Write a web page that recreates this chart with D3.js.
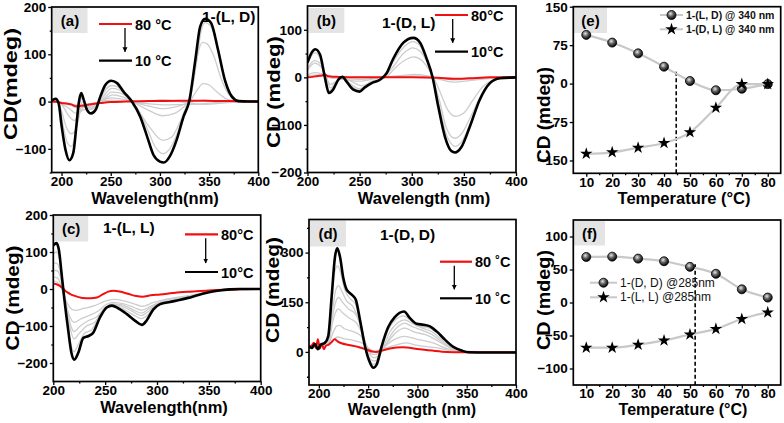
<!DOCTYPE html>
<html><head><meta charset="utf-8">
<script src="https://cdn.jsdelivr.net/npm/d3@7"></script>
<style>body{margin:0;background:#fff}svg{display:block}text{font-family:"Liberation Sans",Arial,sans-serif}</style>
</head><body><svg id="c" width="784" height="423"></svg>
<script>
// ---------------- DATA ----------------
// (a) 1-(L, D)
const aBlack=[[190,2],[194,6],[197,-3],[200,-50],[204,-102],[208,-124],[212,-108],[215,-53],[217.5,-3],[220,18],[222.5,4],[226,-18],[230,-25],[234.5,-18],[239.5,11],[244.5,35],[250.5,44],[256.5,39],[263,21],[271.5,0],[280,-32],[287,-74],[293.5,-113],[300,-127],[304,-129],[310,-116],[317,-81],[324,-32],[330,3],[336,88],[341,159],[346,175],[352,166],[359,110],[366,46],[373,11],[380,1],[390,0],[400,0]];
const aRed=[[190,0],[196,-1],[200,-3],[205,-4],[210,-6],[215,-10],[220,-9],[226,-7],[232,-5],[240,-3],[250,-1],[265,0],[290,1],[320,2],[345,2],[370,1],[400,0]];
const aGray1=[[190,2],[194,5],[198,-10],[202,-55],[206,-88],[210,-95],[213,-80],[216,-40],[219,0],[221,8],[224,-2],[229,-17],[234,-12],[240,8],[245,26],[251,34],[257,31],[264,17],[272,0],[280,-26],[288,-62],[295,-95],[303,-110],[310,-100],[318,-65],[325,-20],[331,8],[337,80],[342,150],[346,167],[352,158],[360,102],[366,44],[373,10],[380,1],[400,0]];
const aGray2=[[190,2],[195,3],[200,-20],[205,-55],[210,-68],[214,-62],[218,-30],[221,0],[225,-6],[231,-15],[240,4],[251,28],[258,25],[272,0],[288,-50],[303,-82],[312,-75],[320,-45],[328,-5],[333,30],[338,95],[343,125],[348,122],[355,95],[362,50],[370,15],[380,2],[400,0]];
const aGray3=[[190,1],[196,2],[202,-12],[208,-32],[213,-40],[218,-25],[224,-10],[232,-12],[240,0],[251,20],[260,18],[272,0],[288,-18],[303,-30],[315,-25],[325,-10],[332,5],[338,25],[344,38],[350,35],[358,20],[368,5],[380,0],[400,0]];
const aGray4=[[190,1],[200,-5],[208,-15],[215,-25],[222,-18],[232,-10],[242,2],[252,14],[262,10],[275,-2],[290,-10],[303,-15],[318,-10],[330,-2],[345,3],[360,1],[400,0]];
const aGray5=[[190,0],[200,-3],[210,-8],[217,-14],[226,-10],[236,-4],[250,8],[262,5],[280,-1],[303,4],[320,0],[340,-5],[360,-2],[400,0]];
const aGray6=[[190,0],[200,-2],[215,-7],[230,-4],[250,3],[280,-3],[303,-7],[330,-6],[345,-6],[370,-2],[400,0]];
// (b) 1-(D, L)
const bBlack=[[200,31],[204,52],[207.5,59],[212,48],[216.5,2],[220.5,-33],[224.5,-26],[229.5,-5],[233.5,1],[237.5,-9],[244,-26],[250,-30],[255,-21],[261.5,-12],[269.5,-5],[276,9],[282,38],[292,73],[301.5,83],[308,73],[314,41],[320,0],[325.5,-62],[332,-126],[338,-155],[341.5,-158],[347.5,-147],[355.5,-105],[365,-48],[375,-12],[384.5,-2],[400,0]];
const bRed=[[200,0],[205,1],[210,3],[214,4],[217,6],[219,3],[222,2],[230,1],[250,0],[300,0],[325,-1],[340,-3],[355,-2],[375,0],[400,0]];
const bGray1=[[200,28],[207,52],[212,40],[217,0],[221,-28],[226,-18],[233,0],[240,-15],[250,-27],[260,-13],[270,-4],[280,25],[290,58],[301,75],[308,66],[314,38],[320,0],[326,-55],[332,-112],[338,-140],[341,-145],[348,-135],[356,-97],[365,-45],[375,-11],[385,-2],[400,0]];
const bGray2=[[200,20],[207,35],[213,28],[218,0],[222,-22],[227,-12],[233,-1],[240,-12],[250,-24],[262,-10],[272,-2],[282,22],[292,50],[301,62],[308,55],[315,30],[320,0],[327,-52],[333,-105],[341,-128],[348,-118],[356,-85],[366,-40],[375,-10],[385,-2],[400,0]];
const bGray3=[[200,15],[207,30],[213,22],[218,0],[222,-15],[228,-8],[235,-2],[245,-12],[252,-18],[262,-8],[275,0],[285,22],[295,38],[302,43],[310,35],[316,18],[321,0],[328,-35],[335,-70],[342,-82],[350,-75],[358,-50],[368,-20],[378,-5],[390,0],[400,0]];
const bGray4=[[200,5],[207,10],[213,8],[220,0],[230,-3],[250,-8],[270,0],[290,4],[302,6],[315,3],[325,-3],[340,-10],[355,-7],[370,-3],[400,0]];
const bGray5=[[200,3],[210,5],[220,0],[250,-4],[280,1],[302,3],[320,0],[340,-5],[360,-3],[400,0]];
// (c) 1-(L, L)
const cBlack=[[200,118],[203,124],[205.5,104],[208,41],[210.5,-23],[214.5,-114],[217.5,-173],[220.3,-191],[224,-173],[229,-132],[234,-127],[238.5,-118],[245,-77],[251.5,-50],[256.5,-45],[262.5,-52],[271,-68],[279,-86],[285.5,-97],[290,-85],[296.5,-55],[303,-41],[312.5,-35],[321.5,-30],[330,-24],[340,-16],[350,-9],[360,-4],[370,-1],[380,0],[400,0]];
const cRed=[[200,15],[203,13],[206,9],[209,2],[212,-6],[216,-13],[220,-18],[228,-24],[236,-25],[242,-23],[248,-14],[253,-7],[258,-5],[264,-7],[272,-13],[280,-19],[286,-21],[294,-17],[303,-15],[315,-11],[322,-9],[335,-7],[350,-4],[365,-2],[380,-1],[400,0]];
const cGray1=[[200,95],[203,100],[206,80],[209,20],[213,-80],[217,-150],[220,-170],[224,-150],[230,-120],[237,-110],[245,-72],[252,-48],[257,-43],[265,-50],[276,-68],[285,-80],[291,-70],[298,-48],[310,-35],[330,-23],[350,-9],[370,-1],[400,0]];
const cGray2=[[200,70],[203,70],[206,55],[209,10],[213,-60],[217,-115],[220,-135],[225,-120],[232,-100],[240,-90],[247,-60],[254,-44],[258,-42],[266,-46],[276,-60],[285,-72],[292,-60],[300,-42],[315,-32],[335,-20],[355,-7],[375,-1],[400,0]];
const cGray3=[[200,50],[203,50],[206,40],[209,5],[213,-50],[217,-100],[220,-115],[226,-100],[234,-85],[242,-75],[250,-50],[257,-40],[266,-42],[276,-55],[285,-65],[293,-52],[302,-38],[320,-28],[340,-15],[360,-4],[380,0],[400,0]];
const cGray4=[[200,32],[204,30],[208,5],[212,-40],[216,-75],[220,-90],[227,-80],[236,-70],[244,-58],[251,-42],[258,-36],[268,-40],[278,-50],[285,-57],[295,-45],[305,-33],[325,-23],[345,-11],[365,-2],[400,0]];
const cGray5=[[200,22],[204,18],[208,0],[212,-30],[216,-50],[221,-58],[230,-52],[240,-45],[250,-33],[258,-28],[268,-32],[278,-40],[286,-47],[296,-37],[310,-27],[330,-18],[350,-8],[370,-1],[400,0]];
// (d) 1-(D, D)
const dBlack=[[190,17],[193,12],[196,24],[199,8],[202,22],[206,27],[209.5,47],[213,168],[216.4,288],[218.7,313],[221.4,288],[224.8,223],[228.2,188],[233.3,173],[237.4,158],[241.7,97],[246.8,17],[251.9,-33],[255.2,-48],[258.7,-38],[263.7,17],[270.4,75],[277,105],[286.4,122],[292.4,102],[299.2,85],[306,82],[312.7,77],[319.5,62],[327.9,37],[336.4,15],[344.9,4],[351.6,-1],[370,-2],[400,-2]];
const dRed=[[190,15],[193,20],[195,28],[197,12],[199,38],[201,10],[203,25],[205,8],[207,18],[210,22],[213,30],[216,38],[219,32],[223,26],[230,21],[240,15],[248,8],[254,1],[258,0],[264,4],[272,10],[285,14],[300,9],[315,4],[330,0],[345,-1],[400,-1]];
const dGray1=[[190,15],[206,25],[210,40],[213,140],[216,240],[219,260],[222,240],[226,190],[232,160],[237,145],[242,90],[247,15],[252,-28],[255,-38],[259,-30],[264,12],[270,65],[278,98],[286,109],[293,95],[300,78],[310,74],[320,57],[330,30],[340,10],[350,1],[360,-1],[400,-1]];
const dGray2=[[190,15],[206,22],[210,35],[214,130],[217,185],[220,200],[223,185],[228,155],[235,135],[241,90],[247,20],[252,-20],[256,-28],[260,-20],[265,10],[272,60],[280,88],[287,97],[295,85],[305,72],[315,60],[325,35],[335,14],[345,3],[355,0],[400,-1]];
const dGray3=[[190,15],[206,20],[210,32],[214,110],[217,150],[220,165],[224,150],[230,130],[237,115],[243,75],[248,20],[253,-12],[256,-18],[261,-10],[267,15],[274,55],[281,78],[287,87],[295,76],[305,65],[315,52],[325,30],[335,12],[345,2],[400,-1]];
const dGray4=[[190,15],[206,18],[210,28],[214,90],[217,120],[220,130],[224,118],[232,100],[238,88],[244,55],[249,15],[253,-5],[257,-8],[262,0],[270,30],[278,58],[287,72],[297,60],[308,52],[318,38],[328,20],[338,6],[350,0],[400,-1]];
const dGray5=[[190,15],[206,18],[210,25],[214,55],[218,78],[221,80],[226,70],[234,62],[242,50],[248,20],[253,3],[257,0],[264,10],[275,35],[287,47],[300,38],[315,28],[330,10],[345,1],[400,-1]];
const dGray6=[[190,15],[206,18],[212,25],[216,40],[219,45],[225,40],[235,35],[245,25],[252,8],[257,2],[265,10],[280,22],[288,27],[300,20],[320,12],[340,2],[360,0],[400,-1]];
// (e) & (f) temperature dependence
const temps=[10,20,30,40,50,60,70,80];
const eLD340=[95,80,59,33,5,-13,-10,-1];
const eDL340=[-137,-134,-125,-116,-95,-47,-1,-1];
const fDD285=[69,69.5,66.5,62.5,54,43.5,20,7.5];
const fLL285=[-68.5,-68.5,-64,-57.5,-48.5,-40,-25,-15];
const eTransition=[44.7,23];   // [temperature, top value] of dashed marker
const fTransition=[52,58];
// ticks
const wlTicks=[200,250,300,350,400], wlMinor=[225,275,325,375];
const aYTicks=[-100,0,100,200], aYMinor=[-150,-50,50,150];
const bYTicks=[-200,-100,0,100], bYMinor=[-150,-50,50];
const cYTicks=[-200,-100,0,100,200], cYMinor=[-150,-50,50,150];
const dYTicks=[0,150,300], dYMinor=[-75,75,225,375];
const tTicks=[10,20,30,40,50,60,70,80], tMinor=[15,25,35,45,55,65,75];
const eYTicks=[-150,-75,0,75,150];
const fYTicks=[-100,-50,0,50,100];

// ---------------- DRAW ----------------
const svg=d3.select('#c');
const defs=svg.append('defs');
const g=defs.append('radialGradient').attr('id','ball').attr('cx','40%').attr('cy','35%').attr('r','65%');
g.append('stop').attr('offset','0%').attr('stop-color','#e8e8e8');
g.append('stop').attr('offset','45%').attr('stop-color','#666');
g.append('stop').attr('offset','100%').attr('stop-color','#000');
defs.append('marker').attr('id','arr').attr('viewBox','0 0 10 10').attr('refX',9).attr('refY',5)
  .attr('markerWidth',5).attr('markerHeight',6).attr('markerUnits','userSpaceOnUse').attr('orient','auto')
  .append('path').attr('d','M0,0L10,5L0,10z').attr('fill','#000');

let clipN=0;
function panel(p){
  const x=d3.scaleLinear().domain(p.xd).range([p.l,p.r]);
  const y=d3.scaleLinear().domain(p.yd).range([p.b,p.t]);
  const G=svg.append('g');
  const cid='clip'+(clipN++);
  defs.append('clipPath').attr('id',cid).append('rect').attr('x',p.l).attr('y',p.t).attr('width',p.r-p.l).attr('height',p.b-p.t);
  // label box
  G.append('rect').attr('x',p.box[0]).attr('y',p.box[1]).attr('width',p.box[2]).attr('height',p.box[3]).attr('fill','#e4e4e4');
  G.append('text').attr('x',p.box[0]+p.box[2]/2).attr('y',p.box[1]+p.box[3]/2+5.5).attr('text-anchor','middle')
    .attr('font-size',15).attr('font-weight','bold').text(p.label);
  // axes
  const fmt=d3.format('d');
  const ax=(gen,vals,size,lab,pad)=>gen.tickValues(vals).tickSize(size).tickSizeOuter(0).tickPadding(pad).tickFormat(lab?fmt:'');
  const styleAx=s=>{s.select('.domain').remove();s.selectAll('line').attr('stroke','#000').attr('stroke-width',1.3);
    s.selectAll('text').attr('font-size',13.5).attr('font-weight','bold').attr('fill','#000').attr('font-family','"Liberation Sans",Arial,sans-serif');};
  G.append('g').attr('transform',`translate(0,${p.b})`).call(ax(d3.axisBottom(x),p.xt,3.5,true,p.tpad)).call(styleAx);
  G.append('g').attr('transform',`translate(0,${p.b})`).call(ax(d3.axisBottom(x),p.xm,2,false,1)).call(styleAx);
  G.append('g').attr('transform',`translate(${p.l},0)`).call(ax(d3.axisLeft(y),p.yt,3.5,true,2)).call(styleAx);
  if(p.ym) G.append('g').attr('transform',`translate(${p.l},0)`).call(ax(d3.axisLeft(y),p.ym,2,false,2)).call(styleAx);
  // curves
  const C=G.append('g').attr('clip-path',`url(#${cid})`);
  const line=d3.line().x(d=>x(d[0])).y(d=>y(d[1])).curve(d3.curveMonotoneX);
  (p.grays||[]).forEach(s=>C.append('path').attr('d',line(s)).attr('fill','none').attr('stroke','#cdcdcd').attr('stroke-width',1.3));
  if(p.red) C.append('path').attr('d',line(p.red)).attr('fill','none').attr('stroke','#f01010').attr('stroke-width',2);
  if(p.black) C.append('path').attr('d',line(p.black)).attr('fill','none').attr('stroke','#000').attr('stroke-width',2.6);
  if(p.series){
    const tl=d3.line().x(d=>x(d[0])).y(d=>y(d[1])).curve(d3.curveMonotoneX);
    if(p.dash) C.append('line').attr('x1',x(p.dash[0])).attr('x2',x(p.dash[0])).attr('y1',y(p.dash[1])).attr('y2',p.b)
      .attr('stroke','#000').attr('stroke-width',1.6).attr('stroke-dasharray','4,2.5');
    p.series.forEach(s=>{
      const pts=temps.map((t,i)=>[t,s.v[i]]);
      C.append('path').attr('d',tl(pts)).attr('fill','none').attr('stroke','#c8c8c8').attr('stroke-width',2.2);
      pts.forEach(d=>drawMark(C,s.m,x(d[0]),y(d[1])));
    });
  }
  // frame
  G.append('rect').attr('x',p.l).attr('y',p.t).attr('width',p.r-p.l).attr('height',p.b-p.t).attr('fill','none').attr('stroke','#000').attr('stroke-width',1.7);
  // titles
  G.append('text').attr('x',p.xtPos[0]).attr('y',p.xtPos[1]).attr('text-anchor','middle').attr('font-size',p.xtPos[2]).attr('font-weight','bold').text(p.xTitle);
  G.append('text').attr('transform',`translate(${p.ytPos[0]},${p.ytPos[1]}) rotate(-90)`).attr('dy','0.35em').attr('text-anchor','middle')
    .attr('font-size',18.5).attr('font-weight','bold').attr('textLength',p.ytPos[2]).attr('lengthAdjust','spacingAndGlyphs').text(p.yTitle);
  if(p.name) G.append('text').attr('x',p.name[0]).attr('y',p.name[1]).attr('font-size',15.5).attr('font-weight','bold').text(p.name[2]);
  if(p.leg){
    const L=p.leg;
    G.append('line').attr('x1',L.x0).attr('x2',L.x1).attr('y1',L.yr).attr('y2',L.yr).attr('stroke','#f01010').attr('stroke-width',2.2);
    G.append('line').attr('x1',L.x0).attr('x2',L.x1).attr('y1',L.yb).attr('y2',L.yb).attr('stroke','#000').attr('stroke-width',2.2);
    G.append('line').attr('x1',L.ax).attr('x2',L.ax).attr('y1',L.yr+4).attr('y2',L.yb-9).attr('stroke','#000').attr('stroke-width',1.3).attr('marker-end','url(#arr)');
    G.append('text').attr('x',L.x1+3).attr('y',L.yr+5.5).attr('font-size',14.5).attr('font-weight','bold').text(L.t1);
    G.append('text').attr('x',L.x1+3).attr('y',L.yb+5.5).attr('font-size',14.5).attr('font-weight','bold').text(L.t2);
  }
  if(p.tleg){
    const L=p.tleg;
    p.series.forEach((s,i)=>{
      const yy=L.y[i];
      G.append('line').attr('x1',L.x0).attr('x2',L.x1).attr('y1',yy).attr('y2',yy).attr('stroke','#c8c8c8').attr('stroke-width',2);
      drawMark(G,s.m,(L.x0+L.x1)/2,yy);
      G.append('text').attr('x',L.x1+3).attr('y',yy+3.8).attr('font-size',L.fs).attr('font-weight',L.fw)
        .attr('font-family',L.ff).attr('fill','#111').text(s.name);
    });
  }
}
function drawMark(sel,m,cx,cy){
  if(m==='o') sel.append('circle').attr('cx',cx).attr('cy',cy).attr('r',4.5).attr('fill','url(#ball)').attr('stroke','#000').attr('stroke-width',0.8);
  else sel.append('path').attr('d',d3.symbol(d3.symbolStar,48)()).attr('transform',`translate(${cx},${cy})`).attr('fill','#000');
}

panel({label:'(a)',box:[52.5,8,35,25],l:51.7,r:258.3,t:7,b:172.5,xd:[190,400],yd:[-150,200],xt:wlTicks,xm:wlMinor,yt:aYTicks,ym:aYMinor,tpad:0.5,
  grays:[aGray6,aGray5,aGray4,aGray3,aGray2,aGray1],red:aRed,black:aBlack,xTitle:'Wavelength(nm)',xtPos:[155,203.5,16.5],yTitle:'CD(mdeg)',ytPos:[11,84,112],
  name:[202,22,'1-(L, D)'],leg:{x0:99,x1:132,yr:24,yb:60.7,ax:125,t1:'80 °C',t2:'10 °C'}});
panel({label:'(b)',box:[308.3,8,36,25],l:307.5,r:516,t:6,b:172.5,xd:[200,400],yd:[-200,150],xt:wlTicks,xm:wlMinor,yt:bYTicks,ym:bYMinor,tpad:0.5,
  grays:[bGray5,bGray4,bGray3,bGray2,bGray1],red:bRed,black:bBlack,xTitle:'Wavelength (nm)',xtPos:[424,203.5,16.5],yTitle:'CD (mdeg)',ytPos:[273.5,92,112],
  name:[382,28,'1-(D, L)'],leg:{x0:435,x1:468,yr:15,yb:51.7,ax:452.7,t1:'80°C',t2:'10°C'}});
panel({label:'(e)',box:[574,7.5,33,25.5],l:573.3,r:780.7,t:6.7,b:173.3,xd:[5,85],yd:[-175,150],xt:tTicks,xm:tMinor,yt:eYTicks,tpad:0.5,
  series:[{v:eLD340,m:'o',name:'1-(L, D) @ 340 nm'},{v:eDL340,m:'s',name:'1-(D, L) @ 340 nm'}],dash:eTransition,
  xTitle:'Temperature (°C)',xtPos:[684,203.5,16.5],yTitle:'CD (mdeg)',ytPos:[544,115,96],
  tleg:{x0:660,x1:683,y:[15,29.3],fs:10.5,fw:'bold',ff:'"Liberation Serif","Times New Roman",serif'}});
panel({label:'(c)',box:[54.2,216,34,25.5],l:53.3,r:260.7,t:215,b:381.5,xd:[200,400],yd:[-250,200],xt:wlTicks,xm:wlMinor,yt:cYTicks,ym:cYMinor,tpad:0.5,
  grays:[cGray5,cGray4,cGray3,cGray2,cGray1],red:cRed,black:cBlack,xTitle:'Wavelength(nm)',xtPos:[164,412.5,16.5],yTitle:'CD (mdeg)',ytPos:[12.5,298,105],
  name:[103,233,'1-(L, L)'],leg:{x0:185,x1:218,yr:234.3,yb:272,ax:205.7,t1:'80°C',t2:'10°C'}});
panel({label:'(d)',box:[310,220.5,36,26],l:309,r:516,t:219.5,b:385,xd:[190,400],yd:[-100,400],xt:wlTicks,xm:wlMinor,yt:dYTicks,ym:dYMinor,tpad:-0.5,
  grays:[dGray6,dGray5,dGray4,dGray3,dGray2,dGray1],red:dRed,black:dBlack,xTitle:'Wavelength (nm)',xtPos:[412,415,16],yTitle:'CD (mdeg)',ytPos:[273,290,106],
  name:[380,240,'1-(D, D)'],leg:{x0:440,x1:472,yr:261.7,yb:298.3,ax:454.3,t1:'80 ˚C',t2:'10 ˚C'}});
panel({label:'(f)',box:[574,221,31,24.5],l:573.3,r:780.7,t:220,b:385,xd:[5,85],yd:[-125,125],xt:tTicks,xm:tMinor,yt:fYTicks,tpad:-0.5,
  series:[{v:fDD285,m:'o',name:'1-(D, D) @285nm'},{v:fLL285,m:'s',name:'1-(L, L) @285nm'}],dash:fTransition,
  xTitle:'Temperature (°C)',xtPos:[683,415,16],yTitle:'CD (mdeg)',ytPos:[544,300,100],
  tleg:{x0:590,x1:617,y:[282.7,297.3],fs:12,fw:'normal',ff:'"Liberation Sans",Arial,sans-serif'}});
</script></body></html>
